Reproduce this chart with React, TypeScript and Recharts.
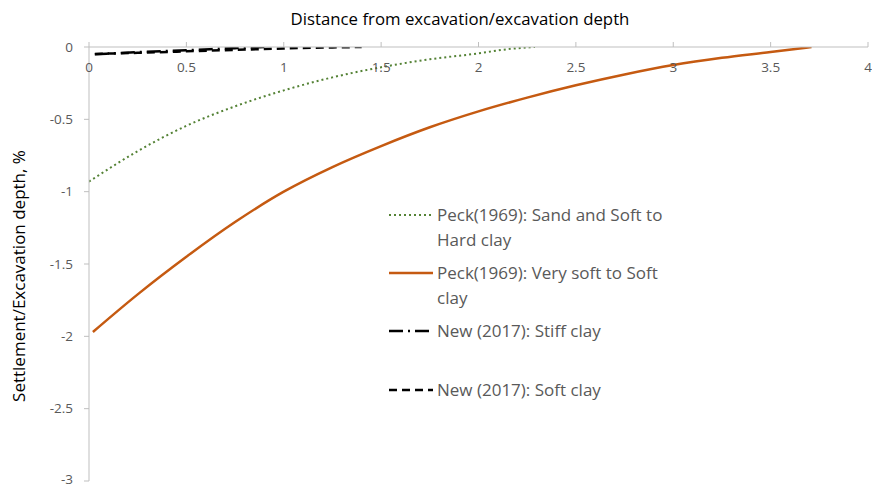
import React from 'react';
import { Line, LineChart, XAxis, YAxis } from 'recharts';

// distance/depth vs settlement/depth (%)
const peckSand = [
  { x: 0, y: -0.93 },
  { x: 0.25, y: -0.72 },
  { x: 0.5, y: -0.545 },
  { x: 0.75, y: -0.41 },
  { x: 1, y: -0.3 },
  { x: 1.25, y: -0.21 },
  { x: 1.5, y: -0.14 },
  { x: 1.75, y: -0.085 },
  { x: 2, y: -0.044 },
  { x: 2.15, y: -0.015 },
  { x: 2.29, y: 0 },
];

const peckSoft = [
  { x: 0.02, y: -1.97 },
  { x: 0.25, y: -1.71 },
  { x: 0.5, y: -1.45 },
  { x: 0.75, y: -1.21 },
  { x: 1, y: -1.0 },
  { x: 1.25, y: -0.83 },
  { x: 1.5, y: -0.685 },
  { x: 1.75, y: -0.555 },
  { x: 2, y: -0.445 },
  { x: 2.25, y: -0.35 },
  { x: 2.5, y: -0.265 },
  { x: 2.75, y: -0.19 },
  { x: 3, y: -0.125 },
  { x: 3.25, y: -0.075 },
  { x: 3.5, y: -0.035 },
  { x: 3.71, y: 0 },
];

const newStiff = [
  { x: 0.03, y: -0.05 },
  { x: 0.25, y: -0.036 },
  { x: 0.5, y: -0.022 },
  { x: 0.75, y: -0.008 },
  { x: 0.9, y: 0 },
];

const newSoft = [
  { x: 0.03, y: -0.048 },
  { x: 0.25, y: -0.04 },
  { x: 0.5, y: -0.03 },
  { x: 0.75, y: -0.02 },
  { x: 1, y: -0.01 },
  { x: 1.25, y: -0.003 },
  { x: 1.4, y: 0 },
];

const xTicks = [0, 0.5, 1, 1.5, 2, 2.5, 3, 3.5, 4];
const yTicks = [0, -0.5, -1, -1.5, -2, -2.5, -3];

const legendItems = [
  { name: 'Peck(1969): Sand and Soft to Hard clay', color: '#548235', dash: '2 3', width: 2, gap: 8 },
  { name: 'Peck(1969): Very soft to Soft clay', color: '#c55a11', dash: undefined, width: 2.5, gap: 8 },
  { name: 'New (2017): Stiff clay', color: '#000000', dash: '14 5 2 5', width: 2.5, gap: 33 },
  { name: 'New (2017): Soft clay', color: '#000000', dash: '8 5', width: 2.5, gap: 0 },
];

const FONT = '"Open Sans", sans-serif';

function TopTick(props: any) {
  const { x, payload } = props;
  return (
    <text x={x} y={72} textAnchor="middle" fontSize={13.5} fill="#595959" fontFamily={FONT}>
      {payload.value}
    </text>
  );
}

export default function App() {
  return (
    <div style={{ position: 'absolute', left: 0, top: 0, width: 872, height: 487, background: '#fff' }}>
      <div style={{ position: 'absolute', left: 60, width: 800, top: 7, textAlign: 'center', fontFamily: FONT, fontSize: 16.8, color: '#000' }}>
        Distance from excavation/excavation depth
      </div>
      <div
        style={{
          position: 'absolute', left: 19, top: 276, width: 400, marginLeft: -200, marginTop: -12,
          textAlign: 'center', transform: 'rotate(-90deg)', fontFamily: FONT, fontSize: 17, color: '#000', lineHeight: '24px',
        }}
      >
        Settlement/Excavation depth, %
      </div>
      <LineChart width={872} height={487} margin={{ top: 27, right: 4, bottom: 6, left: 29 }}>
        <XAxis
          type="number"
          dataKey="x"
          orientation="top"
          domain={[0, 4]}
          ticks={xTicks}
          height={20}
          tickSize={5}
          tick={<TopTick />}
          stroke="#bfbfbf"
          allowDataOverflow
        />
        <YAxis
          type="number"
          dataKey="y"
          domain={[-3, 0]}
          ticks={yTicks}
          width={60}
          tickSize={5}
          tickMargin={11}
          stroke="#bfbfbf"
          tick={{ fontSize: 13.5, fill: '#595959', fontFamily: FONT }}
          allowDataOverflow
        />
        <Line data={peckSand} dataKey="y" type="monotone" stroke="#548235" strokeWidth={2} strokeDasharray="2 3" dot={false} isAnimationActive={false} />
        <Line data={peckSoft} dataKey="y" type="monotone" stroke="#c55a11" strokeWidth={2.5} dot={false} isAnimationActive={false} />
        <Line data={newStiff} dataKey="y" type="monotone" stroke="#000" strokeWidth={2.5} strokeDasharray="14 5 2 5" dot={false} isAnimationActive={false} />
        <Line data={newSoft} dataKey="y" type="monotone" stroke="#000" strokeWidth={2.5} strokeDasharray="8 5" dot={false} isAnimationActive={false} />
      </LineChart>
      <div style={{ position: 'absolute', left: 388, top: 202, fontFamily: FONT, fontSize: 17, color: '#595959' }}>
        {legendItems.map((item, i) => (
          <div key={i} style={{ display: 'flex', alignItems: 'flex-start', marginBottom: item.gap }}>
            <svg width={46} height={26} style={{ flex: 'none', marginRight: 3 }}>
              <line x1={1} y1={13} x2={45} y2={13} stroke={item.color} strokeWidth={item.width} strokeDasharray={item.dash} />
            </svg>
            <span style={{ lineHeight: '25px', width: 236 }}>{item.name}</span>
          </div>
        ))}
      </div>
    </div>
  );
}
